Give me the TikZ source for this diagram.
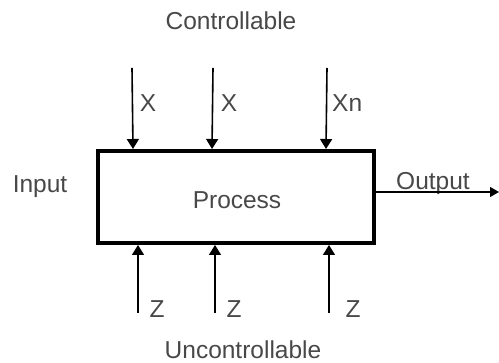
\documentclass[tikz,border=0pt]{standalone}
\usepackage{fontspec}
\setmainfont{Liberation Sans}
\usepackage{xcolor}
\usepackage{tikz}
\usetikzlibrary{arrows.meta,positioning,calc}
\definecolor{labelgray}{HTML}{484848}

\begin{document}
\begin{tikzpicture}[
    x=1pt, y=-1pt,
    procbox/.style={rectangle, draw=black, line width=4pt, minimum width=276pt, minimum height=92pt, inner sep=0pt},
    lbl/.style={text=labelgray, font=\fontsize{24.5}{28}\selectfont, inner sep=0pt, anchor=base},
    inarrow/.style={-{Triangle[length=10pt, width=12pt]}, line width=1.6pt, draw=black},
    outarrow/.style={-{Triangle[length=9pt, width=10pt]}, line width=1.3pt, draw=black}
]
    \useasboundingbox (0,0) rectangle (499,363);

    \node [procbox] (process) at (236,197) {};
    \node [lbl] (ptext) at (237,208.5) {Process};

    \node [lbl] (ctrl) at (231,30) {Controllable};
    \node [lbl] (unctrl) at (243,359) {Uncontrollable};
    \node [lbl] (input) at (40,193) {Input};
    \node [lbl] (output) at (433,190) {Output};

    % controllable inputs
    \coordinate (xsrc1) at (132,68);
    \coordinate (xsrc2) at (213,68);
    \coordinate (xsrc3) at (327,68);
    \node [lbl] (xlab1) at (148,112) {X};
    \node [lbl] (xlab2) at (229,112) {X};
    \node [lbl, anchor=base west] (xlab3) at (332,112) {Xn};

    \draw [inarrow] (xsrc1) -- ($(process.north west)+(37,0)$);
    \draw [inarrow] (xsrc2) -- ($(process.north west)+(116,0)$);
    \draw [inarrow] (xsrc3) -- ($(process.north west)+(230,0)$);

    % uncontrollable inputs
    \coordinate (zsrc1) at (138,313);
    \coordinate (zsrc2) at (215,313);
    \coordinate (zsrc3) at (329,313);
    \node [lbl] (zlab1) at (157,318) {Z};
    \node [lbl] (zlab2) at (234,318) {Z};
    \node [lbl] (zlab3) at (353,318) {Z};

    \draw [inarrow] (zsrc1) -- (zsrc1 |- process.south);
    \draw [inarrow] (zsrc2) -- (zsrc2 |- process.south);
    \draw [inarrow] (zsrc3) -- (zsrc3 |- process.south);

    % output
    \coordinate (outend) at (499,192);
    \draw [outarrow] (process.east |- outend) -- (outend);
\end{tikzpicture}
\end{document}
